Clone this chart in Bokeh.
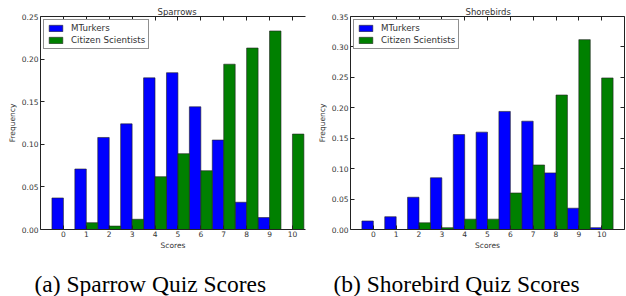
from bokeh.plotting import figure
from bokeh.models import (ColumnDataSource, Range1d, LinearAxis, FixedTicker,
                          Title, NumeralTickFormatter)
from bokeh.layouts import row, column
from bokeh.transform import dodge
from bokeh.embed import file_html
from bokeh.resources import INLINE

# ---- data ----
scores = list(range(11))
score_ticks = list(range(11))
sparrow_mturk = [0.037, 0.071, 0.108, 0.124, 0.178, 0.184, 0.144, 0.105, 0.032, 0.014, 0.0]
sparrow_citizen = [0.0, 0.008, 0.004, 0.012, 0.062, 0.089, 0.069, 0.194, 0.213, 0.233, 0.112]
shore_mturk = [0.014, 0.021, 0.053, 0.085, 0.156, 0.160, 0.194, 0.178, 0.093, 0.035, 0.003]
shore_citizen = [0.0, 0.0, 0.011, 0.003, 0.017, 0.017, 0.060, 0.106, 0.221, 0.312, 0.249]
sparrow_yticks = [0.0, 0.05, 0.10, 0.15, 0.20, 0.25]
shore_yticks = [0.0, 0.05, 0.10, 0.15, 0.20, 0.25, 0.30, 0.35]
series_names = ["MTurkers", "Citizen Scientists"]
titles = ["Sparrows", "Shorebirds"]
captions = ["(a) Sparrow Quiz Scores", "(b) Shorebird Quiz Scores"]

SANS = "DejaVu Sans"
TXT = "#333333"
LINE = "#222222"


def hidden_axis(ticks):
    return LinearAxis(ticker=FixedTicker(ticks=ticks), major_tick_in=4,
                      major_tick_out=0, minor_tick_line_color=None,
                      major_label_text_font_size="1px", major_label_text_color=None,
                      major_label_standoff=0, axis_line_color=LINE,
                      major_tick_line_color=LINE)


def panel(title, mturk, citizen, yticks, x_end, bl, br, right_axis, title_offset):
    src = ColumnDataSource(dict(score=scores, mturk=mturk, citizen=citizen))
    p = figure(width=313, height=252, output_backend="svg", toolbar_location=None,
               x_range=Range1d(-1, x_end), y_range=Range1d(yticks[0], yticks[-1]),
               min_border_left=bl, min_border_right=br, min_border_top=16,
               min_border_bottom=22, background_fill_color="white",
               border_fill_color="white")
    p.title.text = title
    p.title.align = "left"
    p.title.offset = title_offset
    p.title.standoff = 0
    p.title.text_font = SANS
    p.title.text_font_size = "8.5px"
    p.title.text_font_style = "normal"
    p.title.text_color = TXT
    p.grid.visible = False
    p.outline_line_color = None

    p.vbar(x=dodge("score", -0.25, range=p.x_range), top="mturk", width=0.5,
           source=src, fill_color="#0000ff", line_color=LINE, line_width=0.6,
           legend_label=series_names[0])
    p.vbar(x=dodge("score", 0.25, range=p.x_range), top="citizen", width=0.5,
           source=src, fill_color="#008000", line_color=LINE, line_width=0.6,
           legend_label=series_names[1])

    xa = p.xaxis[0]
    xa.ticker = FixedTicker(ticks=score_ticks)
    xa.axis_label = "Scores"
    ya = p.yaxis[0]
    ya.ticker = FixedTicker(ticks=yticks)
    ya.formatter = NumeralTickFormatter(format="0.00")
    ya.axis_label = "Frequency"
    for ax in (xa, ya):
        ax.major_tick_in = 4
        ax.major_tick_out = 0
        ax.minor_tick_line_color = None
        ax.axis_line_color = LINE
        ax.major_tick_line_color = LINE
        ax.major_label_text_font = SANS
        ax.major_label_text_font_size = "7.5px"
        ax.major_label_text_color = TXT
        ax.axis_label_text_font = SANS
        ax.axis_label_text_font_size = "7.5px"
        ax.axis_label_text_font_style = "normal"
        ax.axis_label_text_color = TXT
    xa.major_label_standoff = 1
    xa.axis_label_standoff = 1
    ya.major_label_standoff = 2
    ya.axis_label_standoff = 2

    p.add_layout(hidden_axis(score_ticks), "above")
    if right_axis:
        p.add_layout(hidden_axis(yticks), "right")

    lg = p.legend[0]
    lg.location = "top_left"
    lg.margin = 3
    lg.padding = 3
    lg.spacing = 2
    lg.glyph_width = 17
    lg.glyph_height = 8
    lg.label_height = 8
    lg.label_standoff = 7
    lg.label_text_font = SANS
    lg.label_text_font_size = "8.7px"
    lg.label_text_color = TXT
    lg.border_line_color = LINE
    lg.border_line_width = 1
    lg.background_fill_alpha = 1.0
    return p


def caption_fig(caption, offset):
    c = figure(width=313, height=44, output_backend="svg", toolbar_location=None,
               x_range=Range1d(0, 1), y_range=Range1d(0, 1),
               x_axis_type=None, y_axis_type=None,
               min_border_left=0, min_border_right=0, min_border_top=0,
               min_border_bottom=0, background_fill_color="white",
               border_fill_color="white", outline_line_color=None)
    c.add_layout(Title(text=caption, align="left", offset=offset, standoff=0,
                       text_font="Liberation Serif", text_font_size="23.5px",
                       text_font_style="normal", text_color="black"), "below")
    return c


p1 = panel(titles[0], sparrow_mturk, sparrow_citizen, sparrow_yticks,
           10.57, 40, 8, False, 117)
p2 = panel(titles[1], shore_mturk, shore_citizen, shore_yticks,
           11, 37, 2, True, 115)
c1 = caption_fig(captions[0], 34)
c2 = caption_fig(captions[1], 20)

layout = column(row(p1, p2), row(c1, c2))
open("out.html", "w").write(file_html(layout, INLINE))
